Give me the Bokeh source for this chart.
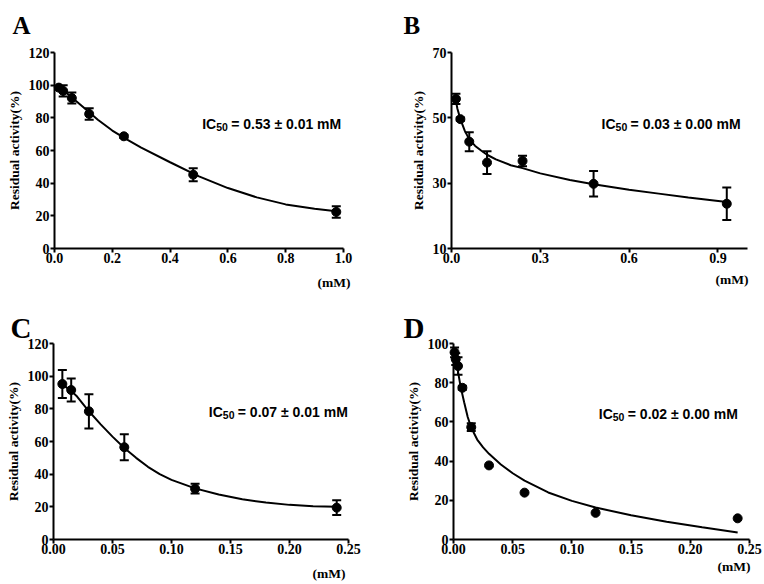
from bokeh.plotting import figure
from bokeh.layouts import column, row
from bokeh.models import (Range1d, Label, Whisker, TeeHead, ColumnDataSource, FixedTicker,
                          NumeralTickFormatter)
from bokeh.embed import file_html
from bokeh.resources import INLINE

# ---------------- data ----------------
# Panel A
conc_a = [0.015, 0.03, 0.06, 0.12, 0.24, 0.48, 0.975]
act_a = [98.5, 96.5, 92.1, 82.4, 68.7, 45.2, 22.4]
err_a = [1.0, 3.5, 3.4, 3.5, 1.0, 4.0, 3.5]
fit_x_a = [0.015, 0.05, 0.1, 0.15, 0.2, 0.25, 0.3, 0.4, 0.5, 0.6, 0.7, 0.8, 0.9, 0.975]
fit_y_a = [98.8, 94.0, 86.5, 78.8, 72.2, 66.8, 61.8, 52.8, 44.2, 37.0, 31.3, 27.0, 24.3, 22.8]
xticks_a = [0.0, 0.2, 0.4, 0.6, 0.8, 1.0]
yticks_a = [0, 20, 40, 60, 80, 100, 120]

# Panel B
conc_b = [0.015, 0.03, 0.06, 0.12, 0.24, 0.48, 0.93]
act_b = [55.8, 49.6, 42.7, 36.3, 36.8, 29.8, 23.7]
err_b = [1.6, 0.5, 2.9, 3.5, 1.6, 3.9, 5.0]
fit_x_b = [0.012, 0.02, 0.03, 0.045, 0.06, 0.08, 0.1, 0.12, 0.15, 0.2, 0.24, 0.3, 0.4, 0.48, 0.6, 0.7, 0.8, 0.93]
fit_y_b = [56.5, 52.8, 49.6, 46.0, 43.4, 41.4, 40.0, 38.7, 37.3, 35.5, 34.6, 33.0, 31.0, 29.7, 28.0, 26.8, 25.6, 24.2]
xticks_b = [0.0, 0.3, 0.6, 0.9]
yticks_b = [10, 30, 50, 70]

# Panel C
conc_c = [0.0075, 0.015, 0.03, 0.06, 0.12, 0.24]
act_c = [95.2, 91.5, 78.5, 56.5, 31.1, 19.5]
err_c = [8.6, 7.0, 10.5, 8.0, 3.0, 4.5]
fit_x_c = [0.0075, 0.015, 0.02, 0.03, 0.04, 0.05, 0.06, 0.07, 0.08, 0.09, 0.1, 0.12, 0.14, 0.16, 0.18, 0.2, 0.22, 0.24]
fit_y_c = [95.0, 91.0, 87.5, 78.5, 70.5, 63.0, 56.0, 50.0, 44.5, 40.0, 36.5, 31.3, 27.5, 24.6, 22.6, 21.2, 20.4, 20.0]
xticks_c = [0.0, 0.05, 0.10, 0.15, 0.20, 0.25]
yticks_c = [0, 20, 40, 60, 80, 100, 120]

# Panel D
conc_d = [0.0009, 0.0019, 0.0038, 0.0075, 0.015, 0.03, 0.06, 0.12, 0.24]
act_d = [95.5, 92.0, 88.5, 77.4, 57.3, 37.8, 23.9, 13.6, 10.8]
err_d = [2.5, 3.0, 4.5, 1.0, 2.0, 0.0, 0.0, 0.0, 0.0]
fit_x_d = [0.002, 0.004, 0.006, 0.009, 0.012, 0.015, 0.02, 0.025, 0.03, 0.04, 0.05, 0.06, 0.08, 0.1, 0.12, 0.15, 0.18, 0.21, 0.24]
fit_y_d = [96.0, 85.0, 78.0, 70.0, 62.5, 57.0, 51.0, 47.0, 43.7, 38.3, 33.8, 30.0, 24.0, 19.7, 16.3, 12.4, 9.1, 6.2, 3.6]
xticks_d = [0.0, 0.05, 0.10, 0.15, 0.20, 0.25]
yticks_d = [0, 20, 40, 60, 80, 100]

ic50_texts = ["= 0.53 \u00b1 0.01 mM", "= 0.03 \u00b1 0.00 mM", "= 0.07 \u00b1 0.01 mM", "= 0.02 \u00b1 0.00 mM"]
letters = ["A", "B", "C", "D"]

SERIF = "Liberation Serif"
SANS = "Liberation Sans"


def panel(letter, conc, act, err, fx, fy, xr, yr, xticks, yticks, xfmt, ic_text, ic_xy,
          w, h, box, letter_off, letter_size, mm_off):
    # box: pixel position (left, top, right, bottom) of the axes inside the figure.
    # The frame fills the whole figure; the axes are pinned with fixed_location.
    bl, bt, br, bb = box
    sx = (xr[1] - xr[0]) / (br - bl)
    sy = (yr[1] - yr[0]) / (bb - bt)
    x_range = Range1d(xr[0] - bl * sx, xr[1] + (w - br) * sx)
    y_range = Range1d(yr[0] - (h - bb) * sy, yr[1] + bt * sy)
    p = figure(width=w, height=h, x_range=x_range, y_range=y_range,
               output_backend="svg", toolbar_location=None, title=None,
               min_border=0, min_border_left=0, min_border_right=0,
               min_border_top=0, min_border_bottom=0)
    p.xgrid.visible = False
    p.ygrid.visible = False
    p.outline_line_color = None
    p.background_fill_color = "white"
    p.border_fill_color = "white"

    for ax in (p.xaxis[0], p.yaxis[0]):
        ax.axis_line_width = 2
        ax.axis_line_color = "black"
        ax.major_tick_line_width = 2
        ax.major_tick_line_color = "black"
        ax.major_tick_out = 4
        ax.major_tick_in = 0
        ax.minor_tick_line_color = None
        ax.major_label_text_font = SERIF
        ax.major_label_text_font_style = "bold"
        ax.major_label_text_font_size = "14px"
        ax.major_label_text_color = "black"
    p.xaxis.fixed_location = yr[0]
    p.xaxis.bounds = (xr[0], xr[1])
    p.yaxis.fixed_location = xr[0]
    p.yaxis.bounds = (yr[0], yr[1])
    p.yaxis.major_label_standoff = 1
    p.xaxis.major_label_standoff = 0
    p.xaxis.ticker = FixedTicker(ticks=xticks)
    p.yaxis.ticker = FixedTicker(ticks=yticks)
    p.xaxis.formatter = NumeralTickFormatter(format=xfmt)
    p.yaxis.formatter = NumeralTickFormatter(format="0")
    p.yaxis.axis_label = "Residual activity(%)"
    p.yaxis.axis_label_text_font = SERIF
    p.yaxis.axis_label_text_font_style = "bold"
    p.yaxis.axis_label_text_font_size = "13.5px"
    p.yaxis.axis_label_text_color = "black"
    p.yaxis.axis_label_standoff = 4

    # fitted curve
    p.line(fx, fy, line_color="black", line_width=2)

    # error bars
    up = [a + e for a, e in zip(act, err) if e > 0]
    lo = [a - e for a, e in zip(act, err) if e > 0]
    xb = [c for c, e in zip(conc, err) if e > 0]
    src = ColumnDataSource(dict(x=xb, upper=up, lower=lo))
    p.add_layout(Whisker(source=src, base="x", upper="upper", lower="lower",
                         line_width=2, line_color="black",
                         upper_head=TeeHead(size=9, line_width=2, line_color="black"),
                         lower_head=TeeHead(size=9, line_width=2, line_color="black")))
    # data points
    p.scatter(conc, act, size=9, marker="circle", fill_color="black", line_color="black")

    # IC50 annotation
    ix, iy = ic_xy
    common = dict(x=ix, y=iy, text_font=SANS, text_font_style="bold", text_color="black",
                  text_align="left", text_baseline="alphabetic")
    p.add_layout(Label(text="IC", text_font_size="14px", **common))
    p.add_layout(Label(text="50", text_font_size="10.5px", x_offset=14, y_offset=-3, **common))
    p.add_layout(Label(text=ic_text, text_font_size="14px", x_offset=29, **common))

    # panel letter
    p.add_layout(Label(x=xr[0], y=yr[1], x_offset=letter_off[0], y_offset=letter_off[1],
                       text=letter, text_font=SERIF, text_font_style="bold",
                       text_font_size=letter_size, text_align="left",
                       text_baseline="alphabetic", text_color="black"))
    # unit label
    p.add_layout(Label(x=xr[1], y=yr[0], x_offset=mm_off[0], y_offset=mm_off[1],
                       text="(mM)", text_font=SERIF, text_font_style="bold",
                       text_font_size="13.5px", text_align="right", text_baseline="top",
                       text_color="black"))
    return p


pa = panel(letters[0], conc_a, act_a, err_a, fit_x_a, fit_y_a, (0, 1.0), (0, 120),
           xticks_a, yticks_a, "0.0", ic50_texts[0], (0.511, 76.3),
           382, 292, (54, 52, 343, 248), (-42, 27), "25px", (7, -26))
pb = panel(letters[1], conc_b, act_b, err_b, fit_x_b, fit_y_b, (0, 1.0), (10, 70),
           xticks_b, yticks_b, "0.0", ic50_texts[1], (0.507, 48.2),
           381, 292, (69, 52, 365, 248), (-48, 27), "25px", (1, -23))
pc = panel(letters[2], conc_c, act_c, err_c, fit_x_c, fit_y_c, (0, 0.25), (0, 120),
           xticks_c, yticks_c, "0.00", ic50_texts[2], (0.1316, 77.9),
           382, 291, (53, 51, 348, 247), (-43, 16), "29px", (-3, -26))
pd_ = panel(letters[3], conc_d, act_d, err_d, fit_x_d, fit_y_d, (0, 0.25), (0, 100),
            xticks_d, yticks_d, "0.00", ic50_texts[3], (0.1227, 64.1),
            381, 291, (71, 51, 367, 247), (-50, 16), "29px", (1, -19))

layout = column(row(pa, pb), row(pc, pd_))
open("out.html", "w").write(file_html(layout, INLINE))
